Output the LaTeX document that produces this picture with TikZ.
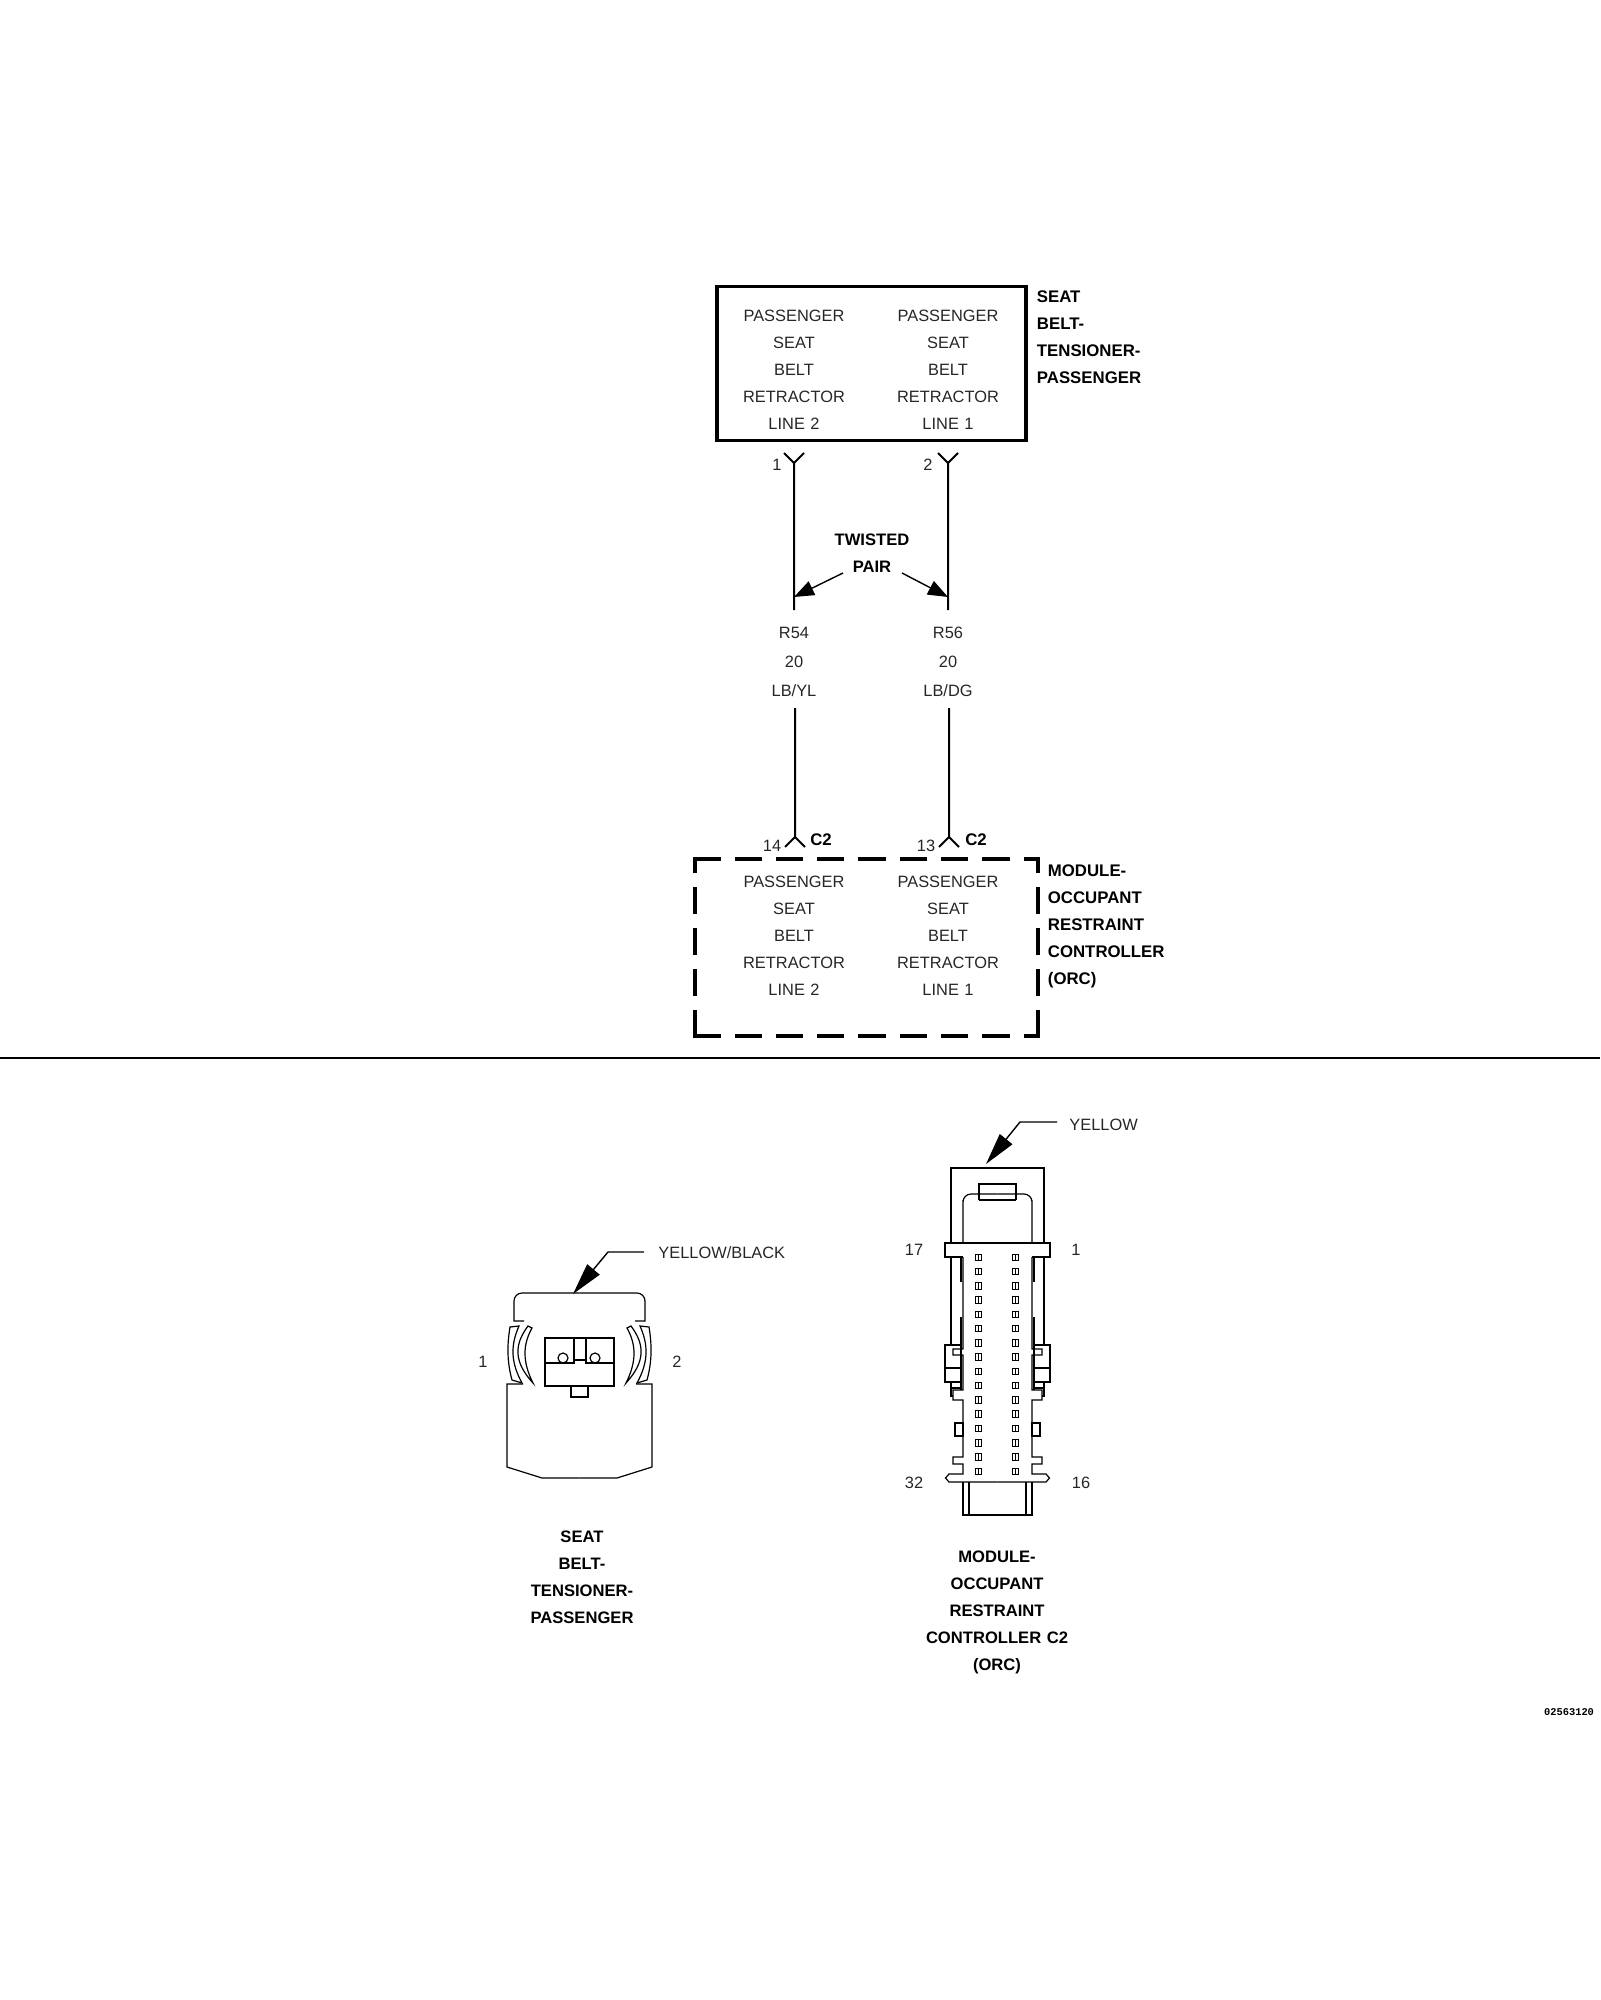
\documentclass[tikz,border=0pt]{standalone}
\usepackage{fontspec}
\setmainfont{Liberation Sans}
\newfontfamily\codefont{Liberation Mono}
\usepackage{tikz}
\usetikzlibrary{arrows.meta}
\tikzstyle{wirelbl} = [inner sep=0pt, text centered, text width=70pt, text=black!85, font=\fontsize{8.2}{13.5}\selectfont]
\tikzstyle{boldlbl} = [inner sep=0pt, text centered, text width=90pt, font=\bfseries\fontsize{8.3}{13.5}\selectfont]
\tikzstyle{sidelbl} = [inner sep=0pt, anchor=west, align=left, font=\bfseries\fontsize{8.4}{13.5}\selectfont]
\tikzstyle{pinlbl} = [inner sep=0pt, text=black!85, font=\fontsize{8.2}{13.5}\selectfont]
\tikzstyle{hbox} = [rectangle, draw=black, line width=1.75pt, minimum width=154.5pt, minimum height=77pt]
\tikzstyle{dashside} = [line width=1.75pt, line cap=rect, dash pattern=on 11.9pt off 8.75pt]
\tikzstyle{wire} = [line width=1pt]
\tikzstyle{part} = [line width=0.6pt]
\tikzstyle{twistarrow} = [line width=0.7pt, -{Triangle[length=10pt,width=7.5pt]}]
\tikzstyle{colorarrow} = [line width=0.7pt, -{Triangle[length=16pt,width=8pt]}]

\begin{document}
\begin{tikzpicture}[x=0.5pt,y=-0.5pt]
        \useasboundingbox (0,0) rectangle (1600,2000);

        % Upper box
        \node[hbox] (beltbox) at (871.5,363.5) {};
        \node[wirelbl] (beltl) at (794,370) {PASSENGER\\SEAT\\BELT\\RETRACTOR\\LINE 2};
        \node[wirelbl] (beltr) at (948,370) {PASSENGER\\SEAT\\BELT\\RETRACTOR\\LINE 1};
        \node[sidelbl] (beltname) at (1036.5,337) {SEAT\\BELT-\\TENSIONER-\\PASSENGER};

        % Wires
        \coordinate (w1a) at (794,463);
        \coordinate (w1b) at (794,610);
        \coordinate (w2a) at (948,463);
        \coordinate (w2b) at (948,610);
        \coordinate (w3a) at (795,708);
        \coordinate (w3b) at (795,837);
        \coordinate (w4a) at (949,708);
        \coordinate (w4b) at (949,837);
        \draw[wire] (w1b) -- (w1a) -- ++(-10,-10);
        \draw[wire] (w1a) -- ++(10,-10);
        \draw[wire] (w2b) -- (w2a) -- ++(-10,-10);
        \draw[wire] (w2a) -- ++(10,-10);
        \draw[wire] (w3a) -- (w3b) -- ++(-10,10);
        \draw[wire] (w3b) -- ++(10,10);
        \draw[wire] (w4a) -- (w4b) -- ++(-10,10);
        \draw[wire] (w4b) -- ++(10,10);

        \node[pinlbl] (p1) at (777,465) {1};
        \node[pinlbl] (p2) at (928,465) {2};
        \node[pinlbl] (p14) at (772,846) {14};
        \node[pinlbl] (p13) at (926,846) {13};
        \node[sidelbl,anchor=center] (c2a) at (821,840) {C2};
        \node[sidelbl,anchor=center] (c2b) at (976,840) {C2};

        % Twisted pair
        \node[boldlbl] (twisted) at (872,553) {TWISTED\\PAIR};
        \coordinate (tl) at (843,573);
        \coordinate (tr) at (902,573);
        \coordinate (tipl) at (794,597);
        \coordinate (tipr) at (948,597);
        \draw[twistarrow] (tl) -- (tipl);
        \draw[twistarrow] (tr) -- (tipr);

        \node[wirelbl] (wl) at (794,633) {R54};
        \node[wirelbl] (wr) at (948,633) {R56};
        \node[wirelbl] (wl2) at (794,662) {20};
        \node[wirelbl] (wr2) at (948,662) {20};
        \node[wirelbl] (wl3) at (794,691) {LB/YL};
        \node[wirelbl] (wr3) at (948,691) {LB/DG};

        % Lower box
        \coordinate (d1) at (695,859);
        \coordinate (d2) at (1038,859);
        \coordinate (d3) at (1038,1036);
        \coordinate (d4) at (695,1036);
        \draw[dashside] (d1) -- (d2);
        \draw[dashside] (d4) -- (d3);
        \draw[dashside] (d4) -- (d1);
        \draw[dashside] (d3) -- (d2);
        \node[wirelbl] (orcl) at (794,936) {PASSENGER\\SEAT\\BELT\\RETRACTOR\\LINE 2};
        \node[wirelbl] (orcr) at (948,936) {PASSENGER\\SEAT\\BELT\\RETRACTOR\\LINE 1};
        \node[sidelbl] (orcname) at (1047.5,926) {MODULE-\\OCCUPANT\\RESTRAINT\\CONTROLLER\\(ORC)};

        % Divider
        \coordinate (div1) at (0,1058);
        \coordinate (div2) at (1600,1058);
        \draw[line width=1.2pt] (div1) -- (div2);

        % Seat belt connector
        \foreach \mir in {1,-1} {
        \begin{scope}[shift={(579.5,0)},xscale=\mir]
            \draw[part] (0,1293) [rounded corners=4pt] -- (-65.5,1293) [sharp corners] -- (-65.5,1321) -- (-55.5,1321);
            \draw[part] (-56.5,1384) -- (-72.5,1384) -- (-72.5,1467) -- (-37.5,1478) -- (0,1478);
            \draw[part] (-69.5,1327) .. controls (-72.5,1345) and (-72.5,1362) .. (-67.5,1380) -- (-57.5,1383)
                .. controls (-69,1362) and (-69,1345) .. (-60.5,1326) -- cycle;
            \draw[part] (-51.5,1326) .. controls (-65.7,1345) and (-65.7,1362) .. (-46.5,1383)
                .. controls (-57,1362) and (-57,1345) .. (-47.5,1328) -- cycle;
        \end{scope}
        }
        \draw[part] (545,1338) rectangle (614,1386);
        \draw[part] (545,1363) -- (574,1363) -- (574,1338);
        \draw[part] (614,1363) -- (586,1363) -- (586,1338);
        \draw[part] (574,1360) -- (586,1360);
        \draw[part] (571,1386) -- (571,1397) -- (588,1397) -- (588,1386);
        \draw[part] (563,1358) circle (5);
        \draw[part] (595,1358) circle (5);
        \node[pinlbl] (s1) at (483,1362) {1};
        \node[pinlbl] (s2) at (677,1362) {2};
        \node[pinlbl,anchor=west] (ybk) at (658,1253) {YELLOW/BLACK};
        \coordinate (yb1) at (644,1252);
        \coordinate (yb2) at (608,1252);
        \coordinate (yb3) at (573,1294);
        \draw[colorarrow] (yb1) -- (yb2) -- (yb3);
        \node[boldlbl] (seatcap) at (582,1577.5) {SEAT\\BELT-\\TENSIONER-\\PASSENGER};

        % ORC connector
        \foreach \mir in {1,-1} {
        \begin{scope}[shift={(997.5,0)},xscale=\mir]
            \draw[part] (-46.5,1243) -- (-46.5,1168) -- (0,1168);
            \draw[part] (-34.5,1243) -- (-34.5,1200) [rounded corners=4pt] -- (-34.5,1194) -- (0,1194);
            \draw[part] (-18.5,1200) -- (-18.5,1184) -- (0,1184);
            \draw[part] (-18.5,1200) -- (0,1200);
            \draw[part] (0,1243) -- (-52.5,1243) -- (-52.5,1257) -- (-34.5,1257);
            \draw[part] (-46.5,1257) -- (-46.5,1345);
            \draw[part] (-34.5,1257) -- (-34.5,1349) -- (-44.5,1349) -- (-44.5,1355) -- (-34.5,1355)
                -- (-34.5,1390) -- (-44.5,1390) -- (-44.5,1400) -- (-34.5,1400)
                -- (-34.5,1457) -- (-44.5,1457) -- (-44.5,1464) -- (-34.5,1464)
                -- (-34.5,1474) -- (-48.5,1474) -- (-52,1478) -- (-48.5,1482) -- (0,1482);
            \draw[part] (-36.5,1257) -- (-36.5,1282);
            \draw[part] (-36.5,1317) -- (-36.5,1390);
            \draw[part] (-52.5,1345) rectangle (-36.5,1382);
            \draw[part] (-52.5,1368) -- (-36.5,1368);
            \draw[part] (-46.5,1382) -- (-46.5,1396) -- (-44.5,1396);
            \draw[part] (-46.5,1388) -- (-36.5,1388);
            \draw[part] (-42.5,1423) rectangle (-34.5,1436);
            \draw[part] (-34.5,1482) -- (-34.5,1515) -- (0,1515);
            \draw[part] (-28.5,1482) -- (-28.5,1515);
        \end{scope}
        }
        % Pins
        \foreach \n in {0,...,15} {
            \draw[line width=0.5pt] (975,1257+14.27*\n-3) rectangle +(6.5,6.5);
            \draw[line width=0.5pt] (978,1257+14.27*\n-3) -- +(0,6.5);
            \draw[line width=0.5pt] (1012,1257+14.27*\n-3) rectangle +(6.5,6.5);
            \draw[line width=0.5pt] (1015,1257+14.27*\n-3) -- +(0,6.5);
        }
        \node[pinlbl] (o17) at (914,1250) {17};
        \node[pinlbl] (o1) at (1076,1250) {1};
        \node[pinlbl] (o32) at (914,1483) {32};
        \node[pinlbl] (o16) at (1081,1483) {16};
        \node[pinlbl,anchor=west] (yel) at (1069,1125) {YELLOW};
        \coordinate (ya1) at (1057,1122);
        \coordinate (ya2) at (1020,1122);
        \coordinate (ya3) at (986,1164);
        \draw[colorarrow] (ya1) -- (ya2) -- (ya3);
        \node[boldlbl] (orccap) at (997,1612) {MODULE-\\OCCUPANT\\RESTRAINT\\CONTROLLER C2\\(ORC)};

        \node[inner sep=0pt, font=\codefont\bfseries\fontsize{5.2}{6}\selectfont] (figno) at (1569,1712) {02563120};
    \end{tikzpicture}
\end{document}
